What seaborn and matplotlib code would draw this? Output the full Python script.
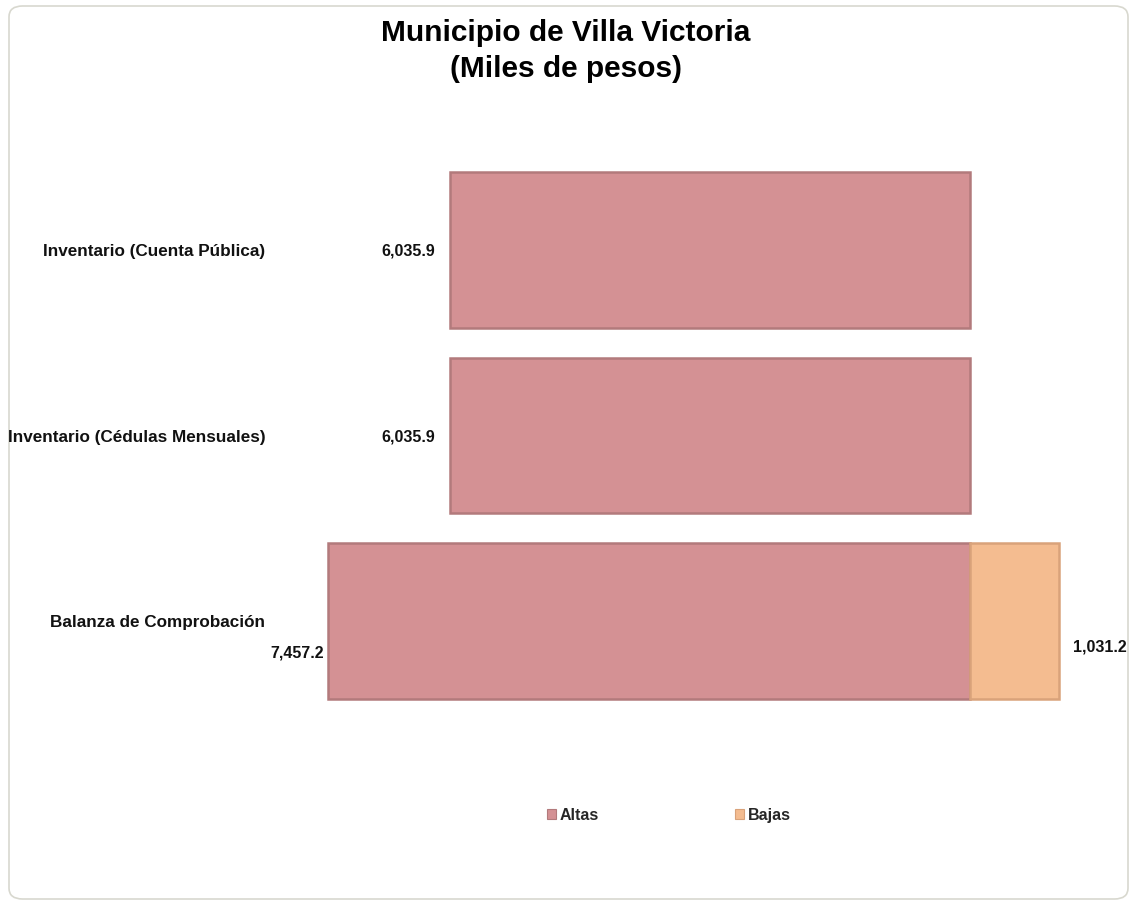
import matplotlib
matplotlib.use("Agg")
import matplotlib.pyplot as plt
import seaborn as sns
import pandas as pd
from matplotlib.patches import FancyBboxPatch, Patch

categories = ["Inventario (Cuenta Pública)", "Inventario (Cédulas Mensuales)", "Balanza de Comprobación"]
altas = [6035.9, 6035.9, 7457.2]
bajas = [0.0, 0.0, 1031.2]
series_names = ["Altas", "Bajas"]
title = "Municipio de Villa Victoria\n(Miles de pesos)"

c_altas = "#D49194"
c_bajas = "#F4BC90"
e_altas = "#B27A7C"
e_bajas = "#D9A27A"

sns.set_theme(style="white")
plt.rcParams["font.family"] = ["Liberation Sans", "DejaVu Sans"]

W, H = 1133, 905
fig = plt.figure(figsize=(W / 100, H / 100), dpi=100)

# rounded figure border
border = FancyBboxPatch((9 / W, 6 / H), (W - 14) / W, (H - 12) / H,
                        boxstyle="round,pad=0,rounding_size=0.012",
                        transform=fig.transFigure, facecolor="none",
                        edgecolor="#D8D8CF", linewidth=1.2, zorder=-10)
fig.patches.append(border)

ax_l, ax_r, ax_t, ax_b = 300, 1100, 150, 720
ax = fig.add_axes([ax_l / W, 1 - ax_b / H, (ax_r - ax_l) / W, (ax_b - ax_t) / H])
ax.set_facecolor("none")

df_a = pd.DataFrame({"cat": categories, "val": [-v for v in altas]})
df_b = pd.DataFrame({"cat": [c for c, b in zip(categories, bajas) if b > 0],
                     "val": [b for b in bajas if b > 0]})

sns.barplot(data=df_a, x="val", y="cat", order=categories, color=c_altas,
            saturation=1, width=0.84, edgecolor=e_altas, linewidth=1.8, ax=ax, orient="h")
sns.barplot(data=df_b, x="val", y="cat", order=categories, color=c_bajas,
            saturation=1, width=0.84, edgecolor=e_bajas, linewidth=1.8, ax=ax, orient="h")

scale = 520 / 6035.9  # px per unit
x0 = 970
ax.set_xlim((ax_l - x0) / scale, (ax_r - x0) / scale)
sp = 185.5
y_top = (ax_t - 250) / sp
y_bot = (ax_b - 250) / sp
ax.set_ylim(y_bot, y_top)

ax.set_xlabel("")
ax.set_ylabel("")
ax.set_xticks([])
ax.tick_params(axis="y", length=0, pad=25)
ax.set_yticks(range(len(categories)))
ax.set_yticklabels(categories, fontsize=12.3, fontweight="bold", color="#111111")
sns.despine(ax=ax, left=True, bottom=True)

# value label offsets in pixels (gap to bar, vertical shift)
alt_gap = [15, 15, 4]
alt_dy = [1, 1, 32]
baj_gap = 14
baj_dy = 26

for i, (a, b) in enumerate(zip(altas, bajas)):
    ax.text(-a - alt_gap[i] / scale, i + alt_dy[i] / sp, f"{a:,.1f}", ha="right", va="center",
            fontsize=11.5, fontweight="bold", color="#111111")
    if b > 0:
        ax.text(b + baj_gap / scale, i + baj_dy / sp, f"{b:,.1f}", ha="left", va="center",
                fontsize=11.5, fontweight="bold", color="#111111")

fig.text(566 / W, 1 - 51 / H, title, ha="center", va="center",
         fontsize=21.5, fontweight="bold", color="#000000", linespacing=1.32)

handles = [Patch(facecolor=c_altas, edgecolor=e_altas, linewidth=0.8),
           Patch(facecolor=c_bajas, edgecolor=e_bajas, linewidth=0.8)]
leg = fig.legend(handles, series_names, loc="center", bbox_to_anchor=(669 / W, 1 - 815 / H),
                 ncol=2, frameon=False, handlelength=0.55, handleheight=0.55,
                 handletextpad=0.25, columnspacing=8.5,
                 prop={"weight": "bold", "size": 11.5})

fig.savefig("out.png", dpi=100)
